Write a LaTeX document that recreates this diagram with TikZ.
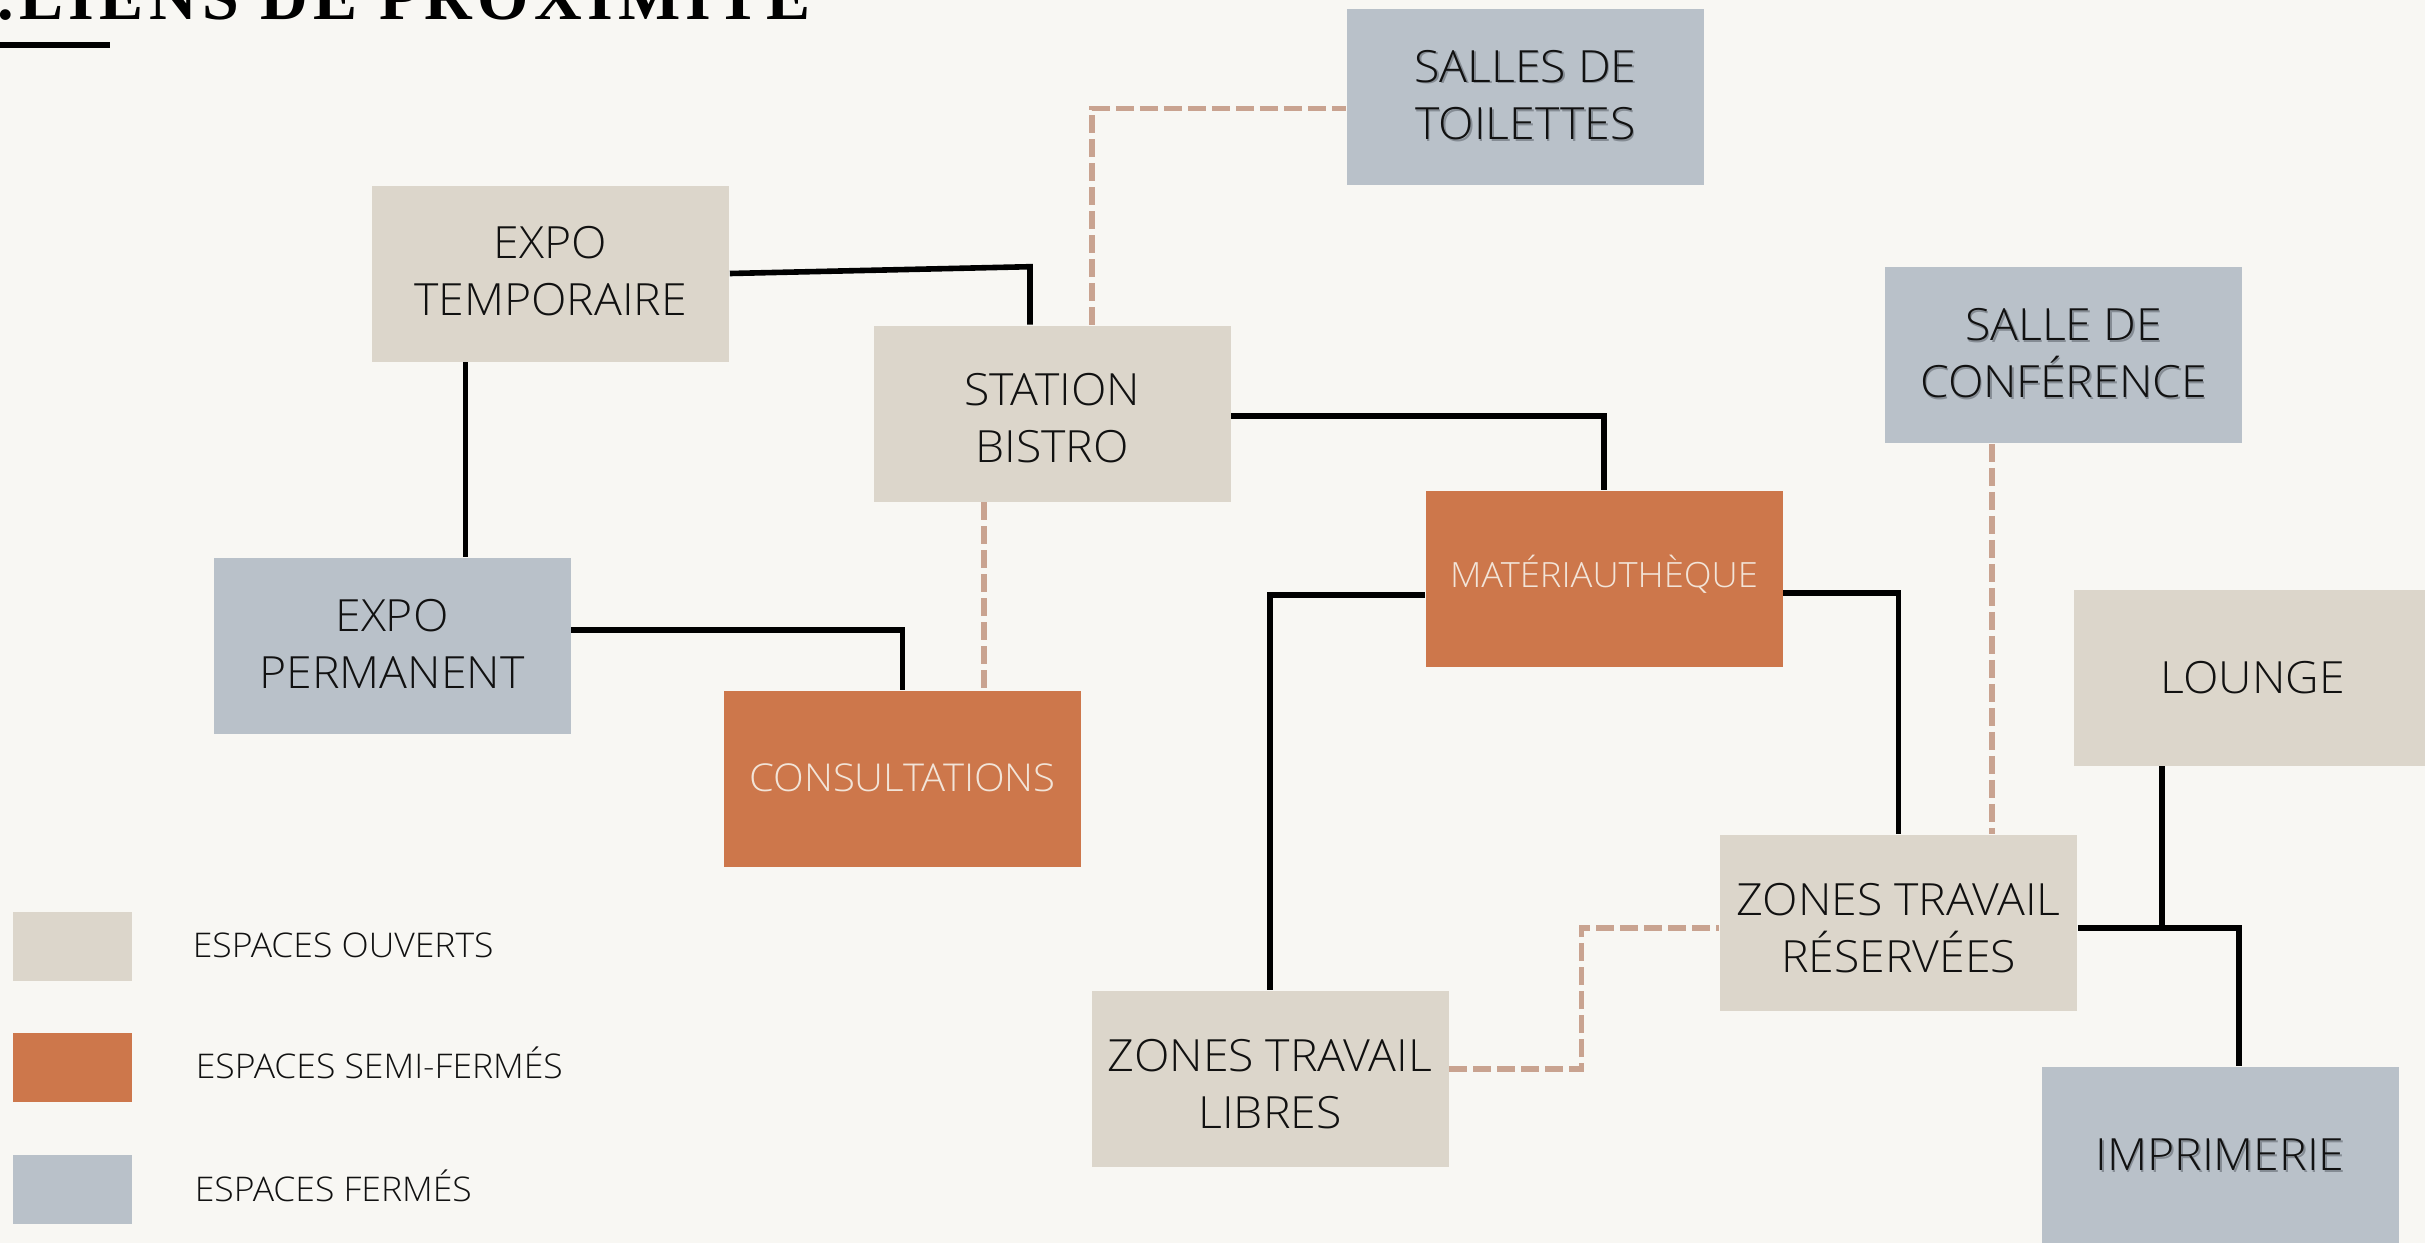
\documentclass[tikz,border=0pt]{standalone}
\usepackage{fontspec}
\IfFontExistsTF{Open Sans Light}{\setmainfont{Open Sans Light}[FakeStretch=1.045]}{\setmainfont{Open Sans}}
\newfontfamily\titlefont[LetterSpace=8]{Liberation Serif Bold}
\usetikzlibrary{calc}
\definecolor{bgc}{HTML}{F8F7F3}
\definecolor{openc}{HTML}{DCD6CB}
\definecolor{semic}{HTML}{CD774B}
\definecolor{closedc}{HTML}{B9C1C9}
\definecolor{dashc}{HTML}{C9A390}
\definecolor{inkc}{HTML}{111111}
\definecolor{lightc}{HTML}{F2E4D8}
\definecolor{shadowc}{HTML}{858C94}
\tikzset{
  boxbase/.style={rectangle, inner sep=0pt, minimum width=89.25pt, minimum height=44pt},
  boxtxt/.style={inner sep=0pt, align=center, text=inkc, font=\fontsize{11.1}{14.3}\selectfont},
  semitxt/.style={boxtxt, text=lightc},
  openbox/.style={boxbase, fill=openc},
  closedbox/.style={boxbase, fill=closedc},
  semibox/.style={boxbase, fill=semic},
  legsq/.style={rectangle, inner sep=0pt, minimum width=29.75pt, minimum height=17.25pt},
  legtxt/.style={anchor=west, inner sep=0pt, text=inkc, text height=6.1pt, text depth=0pt, font=\fontsize{8.5}{10}\selectfont},
  link/.style={draw=black, line width=1.4pt},
  dlink/.style={draw=dashc, line width=1.33pt, dash pattern=on 4.5pt off 1.5pt},
}
\newcommand\BoxText[3]{%
  \node[boxtxt] (#1-t) at ($(#1)+(0,#2)$) {#3};}
\newcommand\ShadowText[3]{%
  \node[boxtxt, text=shadowc] (#1-s) at ($(#1)+(1.6,#2+1.6)$) {#3};
  \node[boxtxt] (#1-t) at ($(#1)+(0,#2)$) {#3};}
\begin{document}
\begin{tikzpicture}[x=0.25pt, y=-0.25pt]
\useasboundingbox (0,0) rectangle (2425,1243);
\clip (0,0) rectangle (2425,1243);
\fill[bgc] (0,0) rectangle (2425,1243);

% title
\node[anchor=base west, inner sep=0pt, text=black, font=\titlefont\fontsize{16.5}{16.5}\selectfont] (title) at (-3,19.3) {.LIENS DE PROXIMITÉ};
\fill[black] (0,42) rectangle (110,47.5);

% boxes
\node[openbox] (et) at (550.5,273.5) {};
\BoxText{et}{-2}{EXPO\\TEMPORAIRE}
\node[openbox] (sb) at (1052,413.5) {};
\BoxText{sb}{5}{STATION\\BISTRO}
\node[closedbox] (st) at (1525.5,96.5) {};
\ShadowText{st}{-1.5}{SALLES DE\\TOILETTES}
\node[closedbox] (cf) at (2063.5,355) {};
\ShadowText{cf}{-1.5}{SALLE DE\\CONFÉRENCE}
\node[semibox] (ma) at (1604,578.5) {};
\node[semitxt, font=\fontsize{8.7}{10}\selectfont] (ma-t) at ($(ma)+(0,-4.5)$) {MATÉRIAUTHÈQUE};
\node[closedbox] (ep) at (392,646) {};
\BoxText{ep}{-2}{EXPO\\PERMANENT}
\node[semibox] (co) at (902.5,779) {};
\node[semitxt, font=\fontsize{9.6}{11}\selectfont] (co-t) at ($(co)+(0,-1)$) {CONSULTATIONS};
\node[openbox] (lo) at (2252.5,677.5) {};
\BoxText{lo}{0}{LOUNGE}
\node[openbox] (zr) at (1898.5,922.5) {};
\BoxText{zr}{6}{ZONES TRAVAIL\\RÉSERVÉES}
\node[openbox] (zl) at (1270,1078.5) {};
\BoxText{zl}{6}{ZONES TRAVAIL\\LIBRES}
\node[closedbox] (im) at (2220,1155) {};
\ShadowText{im}{0}{IMPRIMERIE}

% legend
\node[legsq, fill=openc] (l1) at (72.5,946) {};
\node[legsq, fill=semic] (l2) at (72.5,1067.5) {};
\node[legsq, fill=closedc] (l3) at (72.5,1189.5) {};
\node[legtxt] (t1) at (192,945) {ESPACES OUVERTS};
\node[legtxt] (t2) at (195,1066) {ESPACES SEMI-FERMÉS};
\node[legtxt] (t3) at (194,1189) {ESPACES FERMÉS};

% connectors
\coordinate (c1) at ($(sb.north)+(-22,-58)$);
\draw[link] (et.east) -- (c1) -- (c1 |- sb.north);
\coordinate (c2) at ($(et.south)+(-85,0)$);
\draw[link] (c2) -- (c2 |- ep.north);
\draw[link] ($(ep.east)+(0,-16)$) -| (co.north);
\coordinate (c4) at ($(sb.north)+(40,0)$);
\draw[dlink] (c4) |- ($(st.west)+(0,12)$);
\coordinate (c5) at ($(sb.south)+(-68,0)$);
\draw[dlink] (c5) -- (c5 |- co.north);
\draw[link] ($(sb.east)+(0,2.5)$) -| (ma.north);
\draw[link] ($(ma.west)+(0,16.5)$) -| (zl.north);
\draw[link] ($(ma.east)+(0,14.5)$) -| (zr.north);
\coordinate (c9) at ($(cf.south)+(-71.5,0)$);
\draw[dlink] (c9) -- (c9 |- zr.north);
\coordinate (j) at ($(zr.east)+(0,5.5)$);
\draw[link] (j) -| ($(im.north)+(19,0)$);
\coordinate (c11) at ($(lo.south)+(-90.5,0)$);
\draw[link] (c11) -- (c11 |- j);
\draw[dlink] ($(zl.east)+(0,-9.5)$) -- ++(132,0) |- ($(zr.west)+(0,5.5)$);
\end{tikzpicture}
\end{document}
